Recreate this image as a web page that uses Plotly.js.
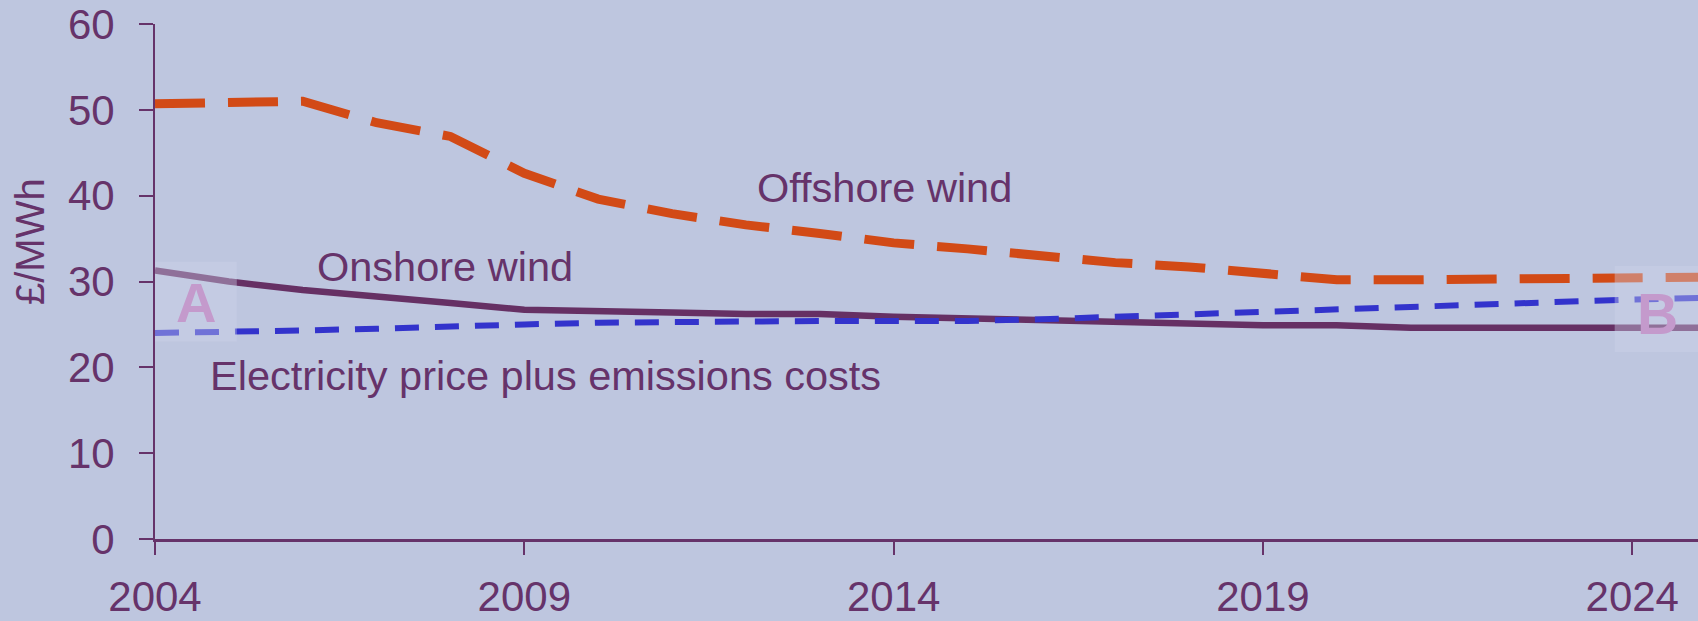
<!DOCTYPE html>
<html>
<head>
<meta charset="utf-8">
<script src="https://cdn.plot.ly/plotly-3.0.1.min.js"></script>
<style>html,body{margin:0;padding:0;background:#BEC6DF;}#chart{width:1698px;height:621px;}</style>
</head>
<body>
<div id="chart"></div>
<script>
const years = [2004,2005,2006,2007,2008,2009,2010,2011,2012,2013,2014,2015,2016,2017,2018,2019,2020,2021,2022,2023,2024,2025];
const offshoreWind = [50.7,50.9,51.0,48.5,46.9,42.6,39.6,37.9,36.6,35.6,34.5,33.8,33.0,32.2,31.7,30.9,30.2,30.2,30.3,30.3,30.4,30.5];
const onshoreWind = [31.3,30.0,29.0,28.3,27.5,26.7,26.6,26.4,26.2,26.2,25.9,25.7,25.5,25.2,25.1,24.9,24.9,24.6,24.6,24.6,24.6,24.6];
const electricityPrice = [24.0,24.1,24.3,24.5,24.8,25.0,25.2,25.3,25.4,25.4,25.4,25.4,25.6,25.9,26.2,26.5,26.8,27.1,27.4,27.7,27.9,28.1];
const xTickYears = [2004,2009,2014,2019,2024];
const yTickValues = [0,10,20,30,40,50,60];
const labels = {
  offshore: "Offshore wind",
  onshore: "Onshore wind",
  price: "Electricity price plus emissions costs",
  yTitle: "£/MWh",
  a: "A",
  b: "B"
};

const txt = '#66336A';
const font = 'Liberation Sans, Arial, sans-serif';

const traces = [
  {x: years, y: onshoreWind, mode: 'lines', line: {color: '#663064', width: 6.5}, hoverinfo: 'skip'},
  {x: years, y: electricityPrice, mode: 'lines', line: {color: '#3333CC', width: 6, dash: '24px,16px'}, hoverinfo: 'skip'},
  {x: years, y: offshoreWind, mode: 'lines', line: {color: '#D24A16', width: 9, dash: '50px,23px'}, hoverinfo: 'skip'}
];

const layout = {
  width: 1698, height: 621,
  margin: {l: 155, r: 0, t: 24, b: 82},
  paper_bgcolor: '#BEC6DF',
  plot_bgcolor: '#BEC6DF',
  showlegend: false,
  font: {family: font, color: txt, size: 42},
  xaxis: {
    range: [2004, 2024.89],
    tickvals: xTickYears,
    ticktext: xTickYears.map(String),
    showgrid: false, zeroline: false,
    showline: true, linecolor: txt, linewidth: 2.5,
    ticks: 'outside', ticklen: 13, tickwidth: 2, tickcolor: txt,
    tickfont: {size: 42, color: txt, family: font},
    ticklabelstandoff: 6
  },
  yaxis: {
    range: [0, 60],
    tickvals: yTickValues,
    showgrid: false, zeroline: false,
    showline: true, linecolor: txt, linewidth: 2,
    ticks: 'outside', ticklen: 14, tickwidth: 2, tickcolor: txt,
    tickfont: {size: 42, color: txt, family: font},
    ticklabelstandoff: 16
  },
  shapes: [
    {type: 'rect', xref: 'paper', yref: 'y', x0: 0, x1: 0.053, y0: 23.0, y1: 32.3, fillcolor: 'rgba(205,211,232,0.4)', line: {width: 0}, layer: 'above'},
    {type: 'rect', xref: 'paper', yref: 'y', x0: 0.946, x1: 1, y0: 21.8, y1: 31.8, fillcolor: 'rgba(205,211,232,0.4)', line: {width: 0}, layer: 'above'}
  ],
  annotations: [
    {x: 0, y: 0, xref: 'paper', yref: 'paper', text: labels.yTitle, showarrow: false, textangle: -90, xanchor: 'center', yanchor: 'middle', font: {size: 40, color: txt, family: font}},
    {x: 2012.12, y: 40.9, xref: 'x', yref: 'y', text: labels.offshore, showarrow: false, xanchor: 'left', yanchor: 'middle', font: {size: 41.5, color: txt, family: font}},
    {x: 2006.17, y: 31.8, xref: 'x', yref: 'y', text: labels.onshore, showarrow: false, xanchor: 'left', yanchor: 'middle', font: {size: 41.5, color: txt, family: font}},
    {x: 2004.72, y: 19.1, xref: 'x', yref: 'y', text: labels.price, showarrow: false, xanchor: 'left', yanchor: 'middle', font: {size: 41.5, color: txt, family: font}},
    {x: 2004.56, y: 27.6, xref: 'x', yref: 'y', text: '<b>' + labels.a + '</b>', showarrow: false, xanchor: 'center', yanchor: 'middle', font: {size: 56, color: '#C49ACC', family: font}},
    {x: 2024.34, y: 26.2, xref: 'x', yref: 'y', text: '<b>' + labels.b + '</b>', showarrow: false, xanchor: 'center', yanchor: 'middle', font: {size: 57, color: '#C49ACC', family: font}}
  ]
};
// y title position given in pixels: convert to paper coords
const plotW = 1698 - 155, plotH = 621 - 24 - 82;
layout.annotations[0].x = (30 - 155) / plotW;
layout.annotations[0].y = (621 - 82 - 241) / plotH;

Plotly.newPlot('chart', traces, layout, {displayModeBar: false, staticPlot: true});
</script>
</body>
</html>
